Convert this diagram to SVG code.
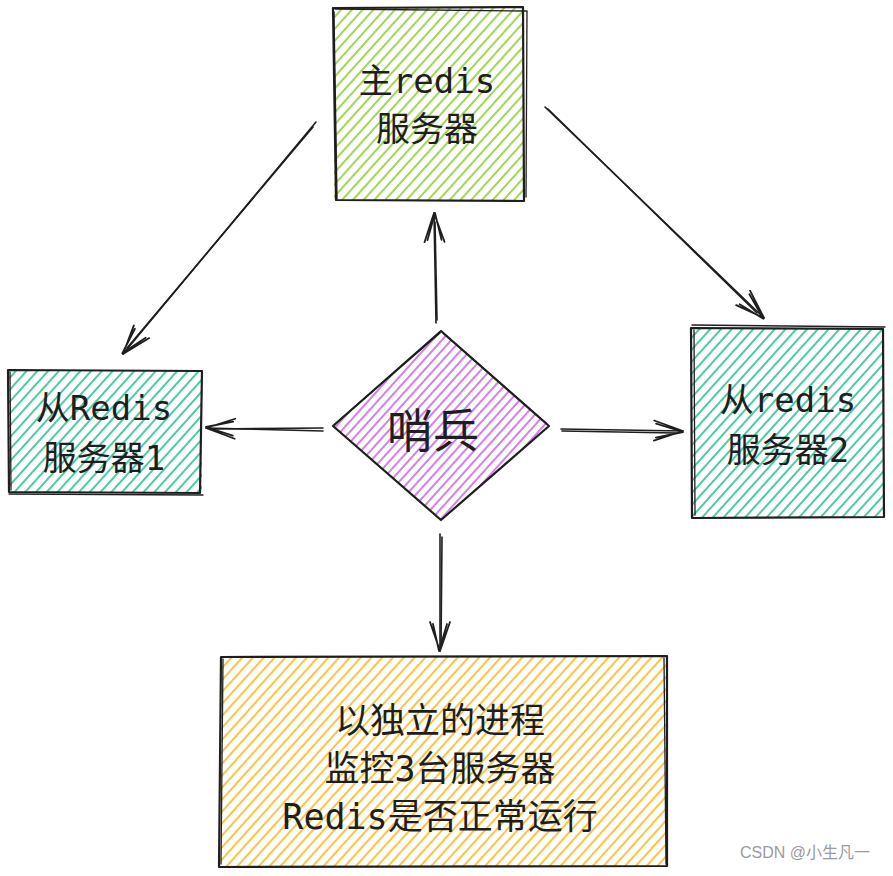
<svg xmlns="http://www.w3.org/2000/svg" width="893" height="876" viewBox="0 0 893 876">
<style>
.edge{fill:none;stroke:#1e1e1e;stroke-width:2.2;stroke-linecap:round;stroke-linejoin:round}
.edge2{fill:none;stroke:#1e1e1e;stroke-width:1.3;stroke-linecap:round;stroke-linejoin:round}
.conn{fill:none;stroke:#1e1e1e;stroke-width:1.6;stroke-linecap:round}
.lbl{font-family:"DejaVu Sans Mono","Noto Sans CJK SC",monospace;font-size:34px;fill:#1e1e1e;text-anchor:middle}
.lbl2{font-family:"DejaVu Sans Mono","Noto Sans CJK SC",monospace;font-size:35px;fill:#1e1e1e;text-anchor:middle}
.big{font-family:"Noto Sans CJK SC",sans-serif;font-size:46px;fill:#1e1e1e;text-anchor:middle}
.wm{font-family:"Liberation Sans","Noto Sans CJK SC",sans-serif;font-size:16px;fill:#9a9a9a}
</style>
<defs>
<pattern id="hLime" width="8" height="8" patternUnits="userSpaceOnUse" patternTransform="rotate(42)">
<line x1="4" y1="0" x2="4" y2="8" stroke="#82c91e" stroke-width="1.5"/>
</pattern>
<pattern id="hTeal" width="8" height="8" patternUnits="userSpaceOnUse" patternTransform="rotate(42)">
<line x1="4" y1="0" x2="4" y2="8" stroke="#12b886" stroke-width="1.5"/>
</pattern>
<pattern id="hPurple" width="7" height="7" patternUnits="userSpaceOnUse" patternTransform="rotate(42)">
<line x1="3" y1="0" x2="3" y2="7" stroke="#be4bdb" stroke-width="1.4"/>
</pattern>
<pattern id="hOrange" width="8" height="8" patternUnits="userSpaceOnUse" patternTransform="rotate(42)">
<line x1="4" y1="0" x2="4" y2="8" stroke="#fab005" stroke-width="1.5"/>
</pattern>
<marker id="arr" viewBox="-32 -14 36 28" refX="0" refY="0" markerWidth="36" markerHeight="28" markerUnits="userSpaceOnUse" orient="auto">
<path d="M-29,-10 L0,0 L-29,10 M-27,-7 L0,1 L-27,7" fill="none" stroke="#1e1e1e" stroke-width="1.8" stroke-linecap="round" stroke-linejoin="round"/>
</marker>
</defs>
<rect width="893" height="876" fill="#ffffff"/>

<g id="connectors">
<path class="conn" d="M436,323 L434,213" marker-end="url(#arr)"/>
<path class="conn" d="M437,320 L435,222"/>
<path class="conn" d="M316,122 L123,354" marker-end="url(#arr)"/>
<path class="conn" d="M313,127 L127,348"/>
<path class="conn" d="M545,107 L764,318" marker-end="url(#arr)"/>
<path class="conn" d="M548,109 L757,313"/>
<path class="conn" d="M323,431 L206,428" marker-end="url(#arr)"/>
<path class="conn" d="M323,428 L212,429"/>
<path class="conn" d="M561,429 L683,431" marker-end="url(#arr)"/>
<path class="conn" d="M562,431 L676,433"/>
<path class="conn" d="M440,534 L440,651" marker-end="url(#arr)"/>
<path class="conn" d="M442,537 L441,645"/>
</g>

<g id="master">
<rect x="334" y="8" width="190" height="193" fill="url(#hLime)"/>
<path class="edge" d="M333,8 L523,7 L524,201 L336,200 Z"/>
<path class="edge2" d="M335,9 L527,11 L526,197 M334,12 L337,199"/>
<text class="lbl" x="427" y="93">主redis</text>
<text class="lbl" x="427" y="141">服务器</text>
</g>

<g id="sentinel">
<path d="M442,332 L549,426 L441,520 L333,426 Z" fill="url(#hPurple)"/>
<path class="edge" d="M441,331 L549,426 L441,520 L333,426 Z"/>
<path class="edge2" d="M444,334 L546,423 M335,424 L440,333"/>
<text class="big" x="433" y="447">哨兵</text>
</g>

<g id="slave1">
<rect x="9" y="371" width="193" height="122" fill="url(#hTeal)"/>
<path class="edge" d="M8,370 L202,371 L200,493 L9,492 Z"/>
<path class="edge2" d="M10,372 L11,490 M9,494 L203,495"/>
<text class="lbl" x="104" y="420">从Redis</text>
<text class="lbl" x="104" y="470">服务器1</text>
</g>

<g id="slave2">
<rect x="692" y="328" width="192" height="190" fill="url(#hTeal)"/>
<path class="edge" d="M691,328 L883,329 L884,517 L692,518 Z"/>
<path class="edge2" d="M694,330 L695,515 M692,325 L885,327"/>
<text class="lbl" x="788" y="412">从redis</text>
<text class="lbl" x="788" y="462">服务器2</text>
</g>

<g id="note">
<rect x="221" y="657" width="446" height="210" fill="url(#hOrange)"/>
<path class="edge" d="M221,657 L667,656 L667,866 L219,867 Z"/>
<path class="edge2" d="M223,659 L221,864 M664,658 L666,864"/>
<text class="lbl2" x="440" y="733">以独立的进程</text>
<text class="lbl2" x="440" y="781">监控3台服务器</text>
<text class="lbl2" x="440" y="829">Redis是否正常运行</text>
</g>

<text class="wm" x="740" y="858">CSDN @小生凡一</text>
</svg>
